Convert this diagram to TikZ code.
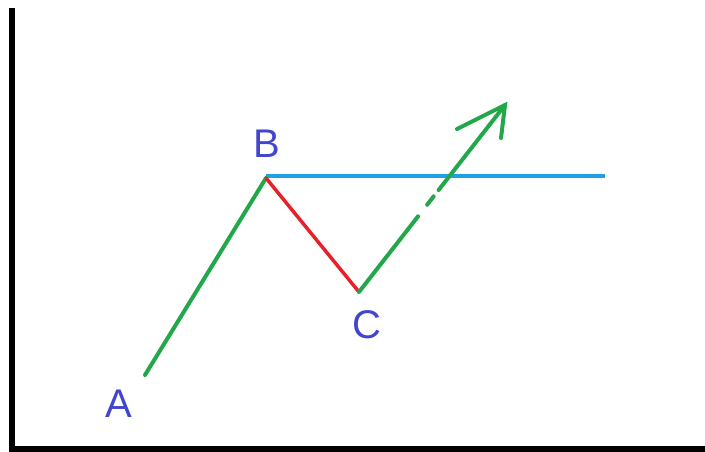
\documentclass[tikz,border=0pt]{standalone}
\usepackage{fontspec}
\setmainfont{Liberation Sans}
\definecolor{legblue}{HTML}{4245D0}
\definecolor{leggreen}{HTML}{22A84A}
\definecolor{legred}{HTML}{E8202A}
\definecolor{levelblue}{HTML}{1EA0E6}
\begin{document}
\begin{tikzpicture}[x=0.75pt, y=-0.75pt,
        pointlabel/.style={text=legblue, font=\fontsize{30}{30}\selectfont, inner sep=0pt},
        axis/.style={line width=3.8pt, black},
        upleg/.style={line width=3pt, leggreen, line cap=round},
        downleg/.style={line width=2.6pt, legred, line cap=round},
        level/.style={line width=2.6pt, levelblue},
        breakout/.style={line width=3pt, leggreen, line cap=round,
            dash pattern=on 72pt off 11pt on 8pt off 6pt on 300pt}
    ]
        \useasboundingbox (0,0) rectangle (705,452);

        \coordinate (pa) at (145,375);
        \coordinate (pb) at (266,178);
        \coordinate (pc) at (359,292);
        \coordinate (tip) at (505,105);
        \coordinate (barbl) at (457,129);
        \coordinate (barbr) at (501,138);
        \coordinate (lvlend) at (605,176);
        \coordinate (top) at (12,8);
        \coordinate (origin) at (12,449);
        \coordinate (right) at (705,449);

        \node[pointlabel] (la) at (119,404) {A};
        \node[pointlabel] (lb) at (267,144) {B};
        \node[pointlabel] (lc) at (367,325) {C};

        \draw[axis] (top) -- (origin) -- (right);

        \draw[level] (pb |- lvlend) -- (lvlend);
        \draw[upleg] (pa) -- (pb);
        \draw[downleg] (pb) -- (pc);
        \draw[breakout] (pc) -- (tip);
        \draw[upleg] (barbl) -- (tip) -- (barbr);
    \end{tikzpicture}
\end{document}
